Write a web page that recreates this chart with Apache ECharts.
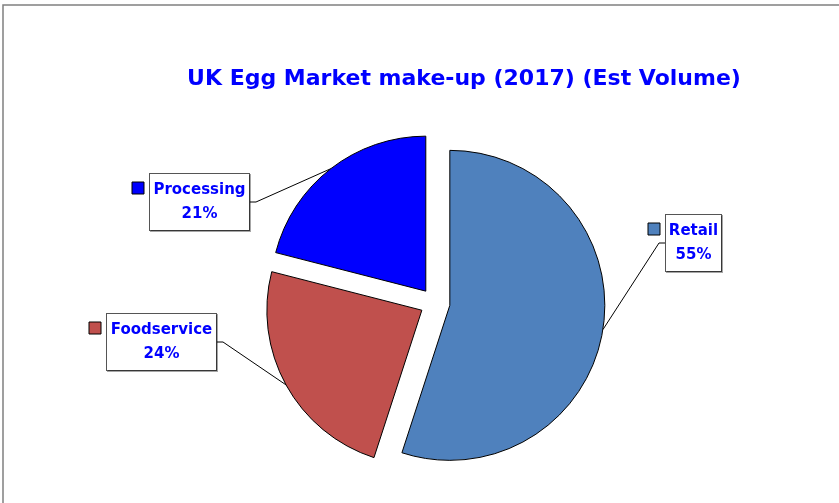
<!DOCTYPE html>
<html>
<head>
<meta charset="utf-8">
<script src="https://cdn.jsdelivr.net/npm/echarts@6/dist/echarts.min.js"></script>
<style>
  html, body { margin: 0; padding: 0; background: #fff; }
  #chart { width: 839px; height: 503px; }
</style>
</head>
<body>
<div id="chart"></div>
<script>
// Market segments and their estimated share of volume (%)
const categories = ['Retail', 'Foodservice', 'Processing'];
const shares = [55, 24, 21];
const colors = ['#4F81BD', '#C0504D', '#0000FF'];

// Label box placement (top-left corner, box width) for each segment
const labelBoxes = [
  { x: 665, y: 215, w: 57 },
  { x: 106, y: 314, w: 111 },
  { x: 149, y: 174, w: 101 }
];
const FONT = '"Comic Sans MS", "DejaVu Sans", sans-serif';
const PAD_X = 3, PAD_Y = 4;
const PIE_CENTER = [435, 303];
const PIE_RADIUS = 155;
const EXPLODE = 15;

const chart = echarts.init(document.getElementById('chart'), null, { renderer: 'canvas' });

// Each segment gets its own pie series so it can be pulled out along its
// bisector; the other segments in that series are invisible placeholders.
const total = shares.reduce((a, b) => a + b, 0);
let acc = 0;
const series = categories.map((name, i) => {
  const mid = (acc + shares[i] / 2) / total * Math.PI * 2;
  acc += shares[i];
  const center = [
    PIE_CENTER[0] + EXPLODE * Math.sin(mid),
    PIE_CENTER[1] - EXPLODE * Math.cos(mid)
  ];
  return {
    type: 'pie',
    name: name,
    center: center,
    radius: PIE_RADIUS,
    startAngle: 90,
    clockwise: true,
    avoidLabelOverlap: false,
    emphasis: { disabled: true },
    label: {
      show: true,
      position: 'outside',
      formatter: '{b}\n{d}%',
      color: '#0000FF',
      fontFamily: FONT,
      fontWeight: 'bold',
      fontSize: 15,
      lineHeight: 24,
      width: labelBoxes[i].w - 2 * PAD_X - 2,
      overflow: 'none',
      backgroundColor: '#fff',
      borderColor: '#555',
      borderWidth: 1,
      padding: [PAD_Y, PAD_X],
      shadowColor: 'rgba(0,0,0,0.35)',
      shadowOffsetX: 1,
      shadowOffsetY: 1
    },
    labelLine: {
      show: true,
      length: 20,
      length2: 6,
      lineStyle: { color: '#000', width: 1 }
    },
    labelLayout: function () {
      const b = labelBoxes[i];
      return { x: b.x + b.w / 2, y: b.y, align: 'center', verticalAlign: 'top' };
    },
    data: categories.map((n, j) => j === i ? {
      name: n,
      value: shares[j],
      itemStyle: { color: colors[j], borderColor: '#000', borderWidth: 1 }
    } : {
      name: n,
      value: shares[j],
      itemStyle: { color: 'rgba(0,0,0,0)', borderWidth: 0 },
      label: { show: false },
      labelLine: { show: false },
      silent: true
    })
  };
});

// Small colour keys next to each label box
const keys = labelBoxes.map((b, i) => ({
  type: 'rect',
  shape: { x: b.x - 17, y: b.y + 8, width: 12, height: 12 },
  style: { fill: colors[i], stroke: '#000', lineWidth: 1 }
}));

chart.setOption({
  animation: false,
  backgroundColor: '#fff',
  title: {
    text: 'UK Egg Market make-up (2017) (Est Volume)',
    left: 459,
    top: 63,
    textAlign: 'center',
    textStyle: { color: '#0000FF', fontFamily: FONT, fontWeight: 'bold', fontSize: 22 }
  },
  graphic: [
    {
      type: 'rect',
      shape: { x: 3, y: 5, width: 860, height: 520 },
      style: { fill: null, stroke: '#808080', lineWidth: 1.5 },
      silent: true
    }
  ].concat(keys),
  series: series
});
</script>
</body>
</html>
